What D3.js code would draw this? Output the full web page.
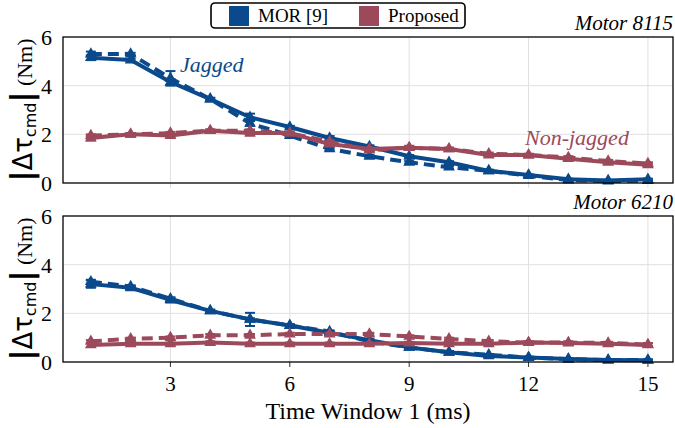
<!DOCTYPE html>
<html><head><meta charset="utf-8">
<script src="https://cdn.jsdelivr.net/npm/d3@7"></script>
<style>body{margin:0;background:#fff}svg{display:block}</style>
</head><body>
<svg id="c" width="675" height="428"></svg>
<script>
const windows = [1,2,3,4,5,6,7,8,9,10,11,12,13,14,15];
const xTicks = [3,6,9,12,15];
const yTicks = [0,2,4,6];
const seriesNames = ["MOR [9]","Proposed"];
const panelTitles = ["Motor 8115","Motor 6210"];

// Motor 8115
const top_mor_solid  = [5.15,5.05,4.15,3.45,2.7,2.3,1.85,1.5,1.1,0.85,0.5,0.33,0.15,0.1,0.15];
const top_mor_dashed = [5.3,5.3,4.3,3.45,2.45,1.95,1.4,1.1,0.85,0.65,0.5,0.3,0.12,0.08,0.1];
const top_prop_solid = [1.85,2.0,1.95,2.15,2.05,2.05,1.6,1.4,1.45,1.4,1.15,1.15,1.0,0.85,0.75];
const top_prop_dashed= [1.95,2.0,2.05,2.15,2.15,2.05,1.7,1.35,1.45,1.4,1.2,1.15,1.05,0.9,0.8];
const top_mor_solid_err  = [0.1,0.05,0.12,0.05,0.15,0.05,0.08,0.05,0.05,0.05,0.05,0.03,0.03,0.03,0.03];
const top_mor_dashed_err = [0.1,0.05,0.3,0.05,0.1,0.05,0.05,0.05,0.05,0.05,0.03,0.03,0.03,0.03,0.03];
const top_prop_solid_err = [0.1,0.05,0.08,0.05,0.1,0.05,0.05,0.05,0.08,0.05,0.05,0.05,0.08,0.05,0.08];
const top_prop_dashed_err= [0.05,0.05,0.05,0.05,0.05,0.05,0.05,0.05,0.05,0.05,0.05,0.05,0.05,0.05,0.05];

// Motor 6210
const bot_mor_solid  = [3.2,3.05,2.55,2.1,1.75,1.5,1.2,0.9,0.6,0.4,0.25,0.18,0.12,0.08,0.07];
const bot_mor_dashed = [3.3,3.1,2.6,2.1,1.75,1.5,1.25,0.85,0.6,0.4,0.3,0.18,0.12,0.08,0.08];
const bot_prop_solid = [0.7,0.75,0.75,0.8,0.75,0.75,0.75,0.75,0.78,0.75,0.75,0.8,0.78,0.75,0.7];
const bot_prop_dashed= [0.85,0.95,1.0,1.1,1.1,1.15,1.15,1.15,1.05,0.95,0.85,0.8,0.8,0.78,0.72];
const bot_mor_solid_err  = [0.15,0.08,0.1,0.05,0.27,0.05,0.05,0.05,0.05,0.05,0.05,0.03,0.03,0.03,0.03];
const bot_mor_dashed_err = [0.08,0.05,0.05,0.05,0.05,0.05,0.05,0.05,0.05,0.05,0.03,0.03,0.03,0.03,0.03];
const bot_prop_solid_err = [0.08,0.05,0.05,0.05,0.05,0.05,0.05,0.05,0.05,0.05,0.05,0.05,0.05,0.05,0.08];
const bot_prop_dashed_err= [0.05,0.05,0.05,0.05,0.05,0.05,0.05,0.05,0.05,0.05,0.05,0.05,0.05,0.05,0.05];

const BLUE = "#0a4a8c", RED = "#9c4a5b";
const SERIF = '"Liberation Serif"';
const SANS = '"DejaVu Sans"';

const panels = [
  {top:37, bottom:183, title:panelTitles[0], series:[
    {v:top_mor_solid, e:top_mor_solid_err, c:BLUE, dash:null},
    {v:top_mor_dashed, e:top_mor_dashed_err, c:BLUE, dash:"11,6"},
    {v:top_prop_solid, e:top_prop_solid_err, c:RED, dash:null},
    {v:top_prop_dashed, e:top_prop_dashed_err, c:RED, dash:"11,6"}], showX:false},
  {top:216, bottom:362, title:panelTitles[1], series:[
    {v:bot_mor_solid, e:bot_mor_solid_err, c:BLUE, dash:null},
    {v:bot_mor_dashed, e:bot_mor_dashed_err, c:BLUE, dash:"11,6"},
    {v:bot_prop_solid, e:bot_prop_solid_err, c:RED, dash:null},
    {v:bot_prop_dashed, e:bot_prop_dashed_err, c:RED, dash:"11,6"}], showX:true}
];

const svg = d3.select("#c");
const L = 63, R = 673;
const x = d3.scaleLinear().domain([0.3, 15.63]).range([L, R]);

panels.forEach((p, pi) => {
  const y = d3.scaleLinear().domain([0,6]).range([p.bottom, p.top]);
  const g = svg.append("g");
  g.selectAll(".gx").data(xTicks).join("line")
    .attr("x1", d=>x(d)).attr("x2", d=>x(d)).attr("y1", p.top).attr("y2", p.bottom)
    .attr("stroke", "#e0e0e0").attr("stroke-width", 1);
  g.selectAll(".gy").data(yTicks.filter(d=>d>0&&d<6)).join("line")
    .attr("x1", L).attr("x2", R).attr("y1", d=>y(d)).attr("y2", d=>y(d))
    .attr("stroke", "#e0e0e0").attr("stroke-width", 1);
  g.selectAll(".tx").data(xTicks).join("line")
    .attr("x1", d=>x(d)).attr("x2", d=>x(d)).attr("y1", p.bottom).attr("y2", p.bottom+5)
    .attr("stroke", p.showX ? "#333" : "#ddd").attr("stroke-width", 1);

  const line = d3.line().x((d,i)=>x(windows[i])).y(d=>y(d));
  p.series.forEach(s => {
    g.append("path").attr("d", line(s.v)).attr("fill","none")
      .attr("stroke", s.c).attr("stroke-width", 4)
      .attr("stroke-dasharray", s.dash).attr("stroke-linejoin","round");
    const eb = g.append("g").attr("stroke", s.c).attr("stroke-width", 2);
    s.v.forEach((v,i) => {
      const cx = x(windows[i]), y1 = y(v - s.e[i]), y2 = y(v + s.e[i]);
      eb.append("line").attr("x1",cx).attr("x2",cx).attr("y1",y1).attr("y2",y2);
      eb.append("line").attr("x1",cx-5).attr("x2",cx+5).attr("y1",y1).attr("y2",y1);
      eb.append("line").attr("x1",cx-5).attr("x2",cx+5).attr("y1",y2).attr("y2",y2);
    });
    g.selectAll(null).data(s.v).join("path")
      .attr("d", d3.symbol().type(d3.symbolTriangle).size(60))
      .attr("transform", (d,i)=>`translate(${x(windows[i])},${y(d)})`)
      .attr("fill", s.c);
  });

  g.append("rect").attr("x", L).attr("y", p.top).attr("width", R-L).attr("height", p.bottom-p.top)
    .attr("fill","none").attr("stroke","#000").attr("stroke-width",1.3);
  g.selectAll(".yl").data(yTicks).join("text")
    .attr("x", L-11).attr("y", d=>y(d)).attr("dy","0.36em").attr("text-anchor","end")
    .style("font-family", SERIF).style("font-size", "22px").text(d=>d);
  if (p.showX) {
    g.selectAll(".xl").data(xTicks).join("text")
      .attr("x", d=>x(d)).attr("y", p.bottom+29).attr("text-anchor","middle")
      .style("font-family", SERIF).style("font-size", "21px").text(d=>d);
  }
  g.append("text").attr("x", R).attr("y", p.top-7).attr("text-anchor","end")
    .style("font-family", SERIF).style("font-style","italic").style("font-size", "21px").text(p.title);
  const cy = (p.top+p.bottom)/2;
  const t = g.append("text").attr("transform", `translate(32,${cy}) rotate(-90)`)
    .attr("text-anchor","middle");
  t.append("tspan").style("font-family",SANS).style("font-weight","bold").style("font-size","30px").text("|");
  t.append("tspan").style("font-family",SANS).style("font-size","26px").text("Δτ");
  t.append("tspan").style("font-family",SANS).style("font-size","16px").attr("dy",4).text("cmd");
  t.append("tspan").style("font-family",SANS).style("font-weight","bold").style("font-size","30px").attr("dy",-4).text("|");
  t.append("tspan").style("font-family",SERIF).style("font-size","22px").text(" (Nm)");
});

svg.append("text").attr("x", 180).attr("y", 72).style("font-family", SERIF).style("font-style","italic")
  .style("font-size", "22px").attr("fill", BLUE).text("Jagged");
svg.append("text").attr("x", 525).attr("y", 145).style("font-family", SERIF).style("font-style","italic")
  .style("font-size", "22px").attr("fill", RED).text("Non-jagged");

svg.append("text").attr("x", 368).attr("y", 419).attr("text-anchor","middle")
  .style("font-family", SERIF).style("font-size", "24px").text("Time Window 1 (ms)");

const lg = svg.append("g");
lg.append("rect").attr("x", 211).attr("y", 3).attr("width", 254).attr("height", 25).attr("rx", 4)
  .attr("fill","#fff").attr("stroke","#000").attr("stroke-width",1.6);
const legendColors = [BLUE, RED];
const legX = [229, 359];
seriesNames.forEach((n,i) => {
  lg.append("rect").attr("x", legX[i]).attr("y", 6).attr("width", 20).attr("height", 20).attr("fill", legendColors[i]);
  lg.append("text").attr("x", legX[i]+29).attr("y", 22).style("font-family", SERIF).style("font-size", "19px").text(n);
});
</script>
</body></html>
